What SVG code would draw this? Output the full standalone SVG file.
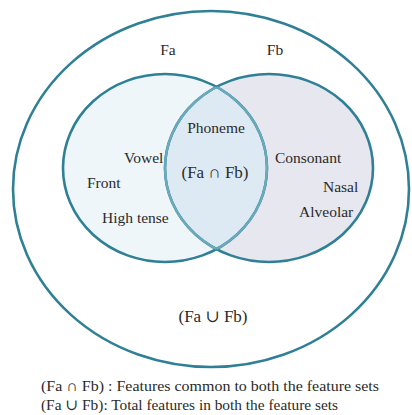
<svg xmlns="http://www.w3.org/2000/svg" width="412" height="415" viewBox="0 0 412 415">
<style>
text{font-family:"Liberation Serif","Times New Roman",Tinos,"DejaVu Serif",serif;fill:#2a2a2a;font-size:15.5px}
text.big{font-size:17px}
.ring{fill:none;stroke:#2f8096;stroke-width:2.6}
.inner{fill:none;stroke:#6aaabb;stroke-width:2.4}
</style>
<defs>
<clipPath id="clipA"><ellipse cx="165" cy="168" rx="102" ry="94"/></clipPath>
<clipPath id="clipB"><ellipse cx="269" cy="168" rx="104" ry="94"/></clipPath>
</defs>
<rect width="412" height="415" fill="#ffffff"/>
<g id="universe">
<ellipse class="ring" cx="211" cy="189" rx="198" ry="178"/>
<text class="big" x="213" y="322" text-anchor="middle">(Fa ∪ Fb)</text>
</g>
<g id="setA">
<ellipse cx="165" cy="168" rx="102" ry="94" fill="#eef6fa"/>
<text x="168" y="55" text-anchor="middle">Fa</text>
<text x="124" y="163">Vowel</text>
<text x="87" y="188">Front</text>
<text x="102" y="223">High tense</text>
</g>
<g id="setB">
<ellipse cx="269" cy="168" rx="104" ry="94" fill="#e7e7ef"/>
<text x="275" y="55" text-anchor="middle">Fb</text>
<text x="275" y="163">Consonant</text>
<text x="323" y="192">Nasal</text>
<text x="299" y="217">Alveolar</text>
</g>
<g id="intersection">
<ellipse cx="269" cy="168" rx="104" ry="94" fill="#deeaf3" clip-path="url(#clipA)"/>
<text x="216" y="133" text-anchor="middle">Phoneme</text>
<text class="big" x="215" y="178" text-anchor="middle">(Fa ∩ Fb)</text>
</g>
<g id="connectors">
<ellipse class="ring" cx="165" cy="168" rx="102" ry="94"/>
<ellipse class="ring" cx="269" cy="168" rx="104" ry="94"/>
<ellipse class="inner" cx="165" cy="168" rx="102" ry="94" clip-path="url(#clipB)"/>
<ellipse class="inner" cx="269" cy="168" rx="104" ry="94" clip-path="url(#clipA)"/>
</g>
<g id="legend">
<text x="41" y="391" textLength="338" lengthAdjust="spacingAndGlyphs">(Fa ∩ Fb) : Features common to both the feature sets</text>
<text x="41" y="410" textLength="297" lengthAdjust="spacingAndGlyphs">(Fa ∪ Fb): Total features in both the feature sets</text>
</g>
</svg>
